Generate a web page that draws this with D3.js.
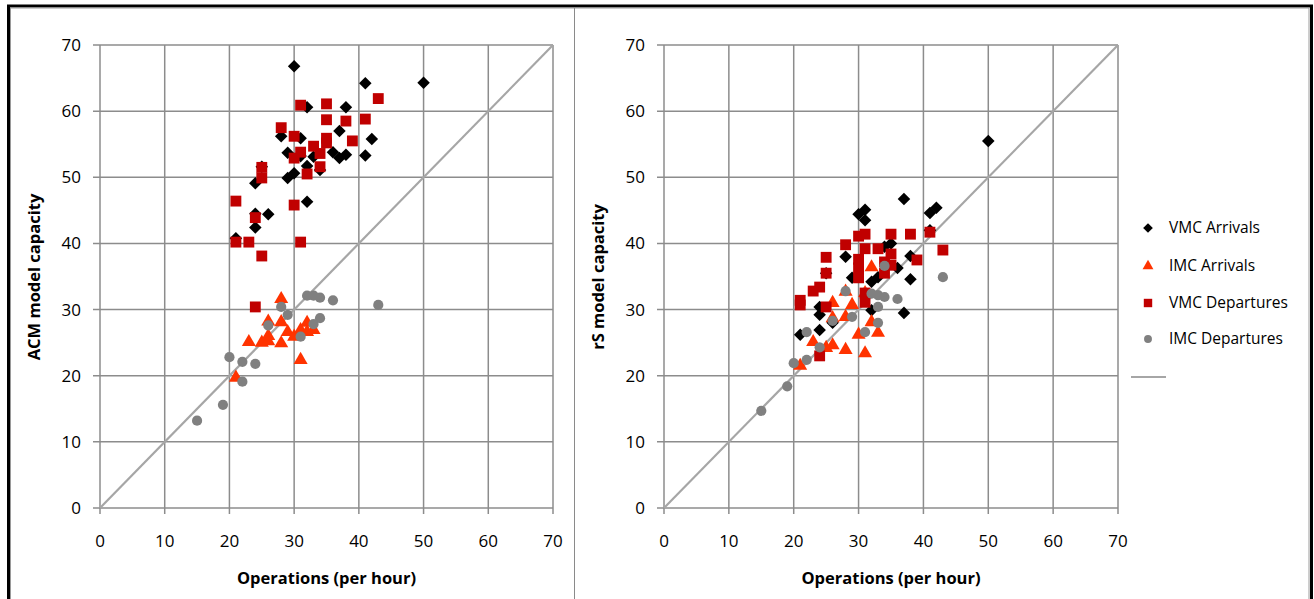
<!DOCTYPE html>
<html><head><meta charset="utf-8">
<script src="https://cdn.jsdelivr.net/npm/d3@7"></script>
<style>
html,body{margin:0;padding:0;background:#fff;}
svg{display:block;font-family:"Open Sans","Liberation Sans",sans-serif;}
</style></head><body>
<svg id="chart" width="1314" height="599"></svg>
<script>
// ---- data ----
const ticks = [0,10,20,30,40,50,60,70];
const seriesNames = ["VMC Arrivals","IMC Arrivals","VMC Departures","IMC Departures"];

const acmVMCArr = [[30,66.8],[50,64.3],[41,64.2],[32,60.6],[38,60.6],[37,57],[42,55.8],[28,56.2],[31,55.9],[29,53.7],[31,53.2],[33,53.1],[36,53.8],[37,52.9],[38,53.4],[41,53.3],[32,51.7],[34,51.1],[30,50.6],[29,49.9],[24,49.1],[25,51.6],[32,46.3],[24,44.5],[26,44.4],[24,42.4],[21,40.8]];
const acmIMCArr = [[28,31.6],[26,28.2],[28,28.1],[23,25.1],[25,25],[26,26],[26,25.2],[28,24.9],[29,26.6],[30,25.9],[31,26.9],[32,28],[32,26.6],[33,26.9],[31,22.4],[21,19.7]];
const acmVMCDep = [[31,60.9],[35,61.1],[43,61.9],[35,58.7],[38,58.5],[41,58.8],[28,57.5],[30,56.2],[35,55.9],[35,55.2],[39,55.5],[33,54.7],[31,53.8],[34,53.6],[30,52.9],[34,51.6],[32,50.5],[25,51.5],[25,49.9],[21,46.4],[30,45.8],[24,43.9],[21,40.2],[23,40.2],[31,40.2],[25,38.1],[24,30.4]];
const acmIMCDep = [[15,13.2],[19,15.6],[20,22.8],[22,22.1],[24,21.8],[22,19.1],[28,30.4],[29,29.2],[32,32.1],[33,32.1],[34,31.8],[36,31.4],[34,28.7],[33,27.8],[31,25.9],[26,27.6],[43,30.7]];

const rsVMCArr = [[37,46.7],[31,45.1],[30,44.4],[31,43.5],[42,45.4],[41,44.6],[35,40],[34,39.5],[28,38],[38,38.1],[36,36.3],[38,34.6],[25,35.5],[29,34.8],[33,34.9],[32,34.2],[37,29.5],[24,30.4],[24,29.2],[32,29.9],[21,26.2],[24,26.9],[26,28],[50,55.5],[41,42]];
const rsIMCArr = [[32,36.4],[28,32.7],[26,31],[29,30.7],[31,32.5],[28,28.9],[26,28.7],[32,28.1],[23,25.1],[26,24.6],[25,24.2],[28,23.9],[30,26.2],[33,26.5],[31,23.4],[21,21.5]];
const rsVMCDep = [[30,41.1],[31,41.4],[35,41.4],[38,41.4],[41,41.7],[43,39],[39,37.5],[28,39.8],[31,39.2],[33,39.2],[35,38.4],[25,37.9],[30,37.6],[30,36.3],[34,37.2],[35,36.7],[34,35.5],[25,35.5],[30,34.8],[24,33.4],[23,32.8],[21,31.4],[21,30.7],[31,32.5],[31,31.1],[25,30.4],[24,23]];
const rsIMCDep = [[15,14.7],[19,18.4],[20,21.9],[22,22.4],[22,26.6],[24,24.3],[26,28.3],[29,28.9],[28,32.8],[31,26.6],[33,30.4],[33,28],[32,32.4],[33,32.2],[34,31.9],[36,31.6],[43,34.9],[34,36.6]];
const refLine = [[0,0],[70,70]];

// ---- drawing ----
const svg = d3.select("#chart");
const styles = [
  {sym: d3.symbolDiamond2, size: 100, fill: "#000000"},
  {sym: d3.symbolTriangle, size: 85, fill: "#FF3300"},
  {sym: d3.symbolSquare, size: 118, fill: "#C00000"},
  {sym: d3.symbolCircle, size: 82, fill: "#808080"}
];

// frame
svg.append("rect").attr("x",8.5).attr("y",6).attr("width",1303).attr("height",620)
  .attr("fill","none").attr("stroke","#000").attr("stroke-width",3);
svg.append("rect").attr("x",10.5).attr("y",8).attr("width",1298.5).attr("height",620)
  .attr("fill","none").attr("stroke","#9a9a9a").attr("stroke-width",1);
svg.append("line").attr("x1",574.5).attr("x2",574.5).attr("y1",8).attr("y2",599)
  .attr("stroke","#8a8a8a").attr("stroke-width",1);

function panel(x0, x1, ytitle, data) {
  const x = d3.scaleLinear().domain([0,70]).range([x0,x1]);
  const y = d3.scaleLinear().domain([0,70]).range([508,45]);
  const g = svg.append("g");
  // grid
  g.selectAll(".vg").data(ticks).enter().append("line")
    .attr("x1",d=>x(d)).attr("x2",d=>x(d)).attr("y1",y(70)).attr("y2",y(0)+6)
    .attr("stroke","#8c8c8c").attr("stroke-width",1.5);
  g.selectAll(".hg").data(ticks).enter().append("line")
    .attr("x1",x(0)-7).attr("x2",x(70)).attr("y1",d=>y(d)).attr("y2",d=>y(d))
    .attr("stroke","#8c8c8c").attr("stroke-width",1.5);
  // labels
  g.selectAll(".yl").data(ticks).enter().append("text")
    .attr("x",x(0)-19).attr("y",d=>y(d)+6).attr("text-anchor","end")
    .attr("font-size",17).attr("fill","#000").text(d=>d);
  g.selectAll(".xl").data(ticks).enter().append("text")
    .attr("x",d=>x(d)).attr("y",547).attr("text-anchor","middle")
    .attr("font-size",17).attr("fill","#000").text(d=>d);
  g.append("text").attr("x",(x0+x1)/2).attr("y",584).attr("text-anchor","middle")
    .attr("font-size",16.5).attr("font-weight","bold").text("Operations (per hour)");
  g.append("text").attr("transform",`translate(${x0-60},277) rotate(-90)`)
    .attr("text-anchor","middle").attr("font-size",16.5).attr("font-weight","bold").text(ytitle);
  // reference line
  g.append("path").datum(refLine)
    .attr("d", d3.line().x(d=>x(d[0])).y(d=>y(d[1])))
    .attr("stroke","#a6a6a6").attr("stroke-width",2.2).attr("fill","none");
  // series
  data.forEach((ser,i)=>{
    const st = styles[i];
    g.append("g").selectAll("path").data(ser).enter().append("path")
      .attr("transform",d=>`translate(${x(d[0])},${y(d[1])})`)
      .attr("d", d3.symbol().type(st.sym).size(st.size))
      .attr("fill", st.fill);
  });
}

panel(100, 553, "ACM model capacity", [acmVMCArr, acmIMCArr, acmVMCDep, acmIMCDep]);
panel(664, 1118, "rS model capacity", [rsVMCArr, rsIMCArr, rsVMCDep, rsIMCDep]);

// legend
const leg = svg.append("g");
const legY = [228, 266, 303, 339];
seriesNames.forEach((n,i)=>{
  const st = styles[i];
  leg.append("path").attr("transform",`translate(1148,${legY[i]})`)
    .attr("d", d3.symbol().type(st.sym).size(st.size*0.6)).attr("fill",st.fill);
  leg.append("text").attr("x",1169).attr("y",legY[i]+5).attr("font-size",15.5)
    .attr("fill","#000").text(n);
});
leg.append("line").attr("x1",1131).attr("x2",1166).attr("y1",377).attr("y2",377)
  .attr("stroke","#a6a6a6").attr("stroke-width",2.2);
</script>
</body></html>
